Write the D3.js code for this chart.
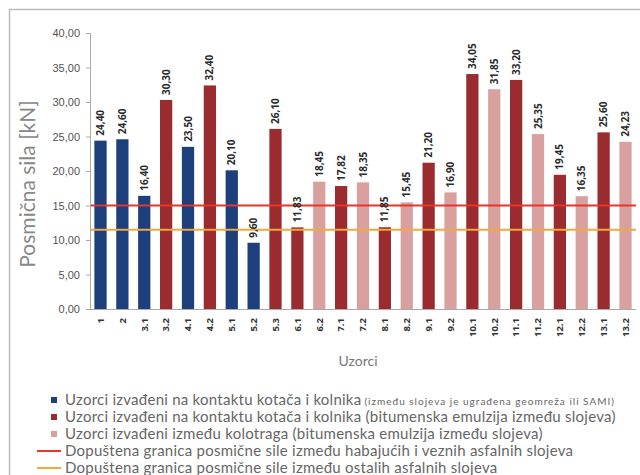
<!DOCTYPE html>
<html>
<head>
<meta charset="utf-8">
<script src="https://cdn.jsdelivr.net/npm/d3@7"></script>
<style>
  body { margin: 0; background: #fff; }
  svg { font-family: Lato, "Open Sans", sans-serif; }
</style>
</head>
<body>
<svg id="chart" width="640" height="475"></svg>
<script>
const categories = ["1","2","3.1","3.2","4.1","4.2","5.1","5.2","5.3","6.1","6.2","7.1","7.2","8.1","8.2","9.1","9.2","10.1","10.2","11.1","11.2","12.1","12.2","13.1","13.2"];
const values = [24.40,24.60,16.40,30.30,23.50,32.40,20.10,9.60,26.10,11.83,18.45,17.82,18.35,11.85,15.45,21.20,16.90,34.05,31.85,33.20,25.35,19.45,16.35,25.60,24.23];
// group: 0 = geomreza/SAMI, 1 = kotac, emulzija, 2 = izmedu kolotraga
const groups = [0,0,0,1,0,1,0,0,1,1,2,1,2,1,2,1,2,1,2,1,2,1,2,1,2];
const yTicks = [0,5,10,15,20,25,30,35,40];
const limitHigh = 15;
const limitLow = 11.5;
const legendLabels = [
  "Uzorci izvađeni na kontaktu kotača i kolnika",
  "Uzorci izvađeni na kontaktu kotača i kolnika (bitumenska emulzija između slojeva)",
  "Uzorci izvađeni između kolotraga (bitumenska emulzija između slojeva)",
  "Dopuštena granica posmične sile između habajućih i veznih asfalnih slojeva",
  "Dopuštena granica posmične sile između ostalih asfalnih slojeva"
];
const legendNote = "(između slojeva je ugrađena geomreža ili SAMI)";

const barColors = ["#1d3f7c", "#9a2b2f", "#d9a0a0"];
const lineColors = ["#e8352a", "#f2a93b"];

const svg = d3.select("#chart");
const fmt = v => d3.format(".2f")(v).replace(".", ",");

// outer frame
svg.append("path")
  .attr("d", "M9.5,475 L9.5,9.5 L640,9.5")
  .attr("fill", "none")
  .attr("stroke", "#bbb")
  .attr("stroke-width", 1.5);

const plotLeft = 90, plotRight = 636, plotTop = 33, plotBottom = 309;

const x = d3.scaleBand().domain(categories).range([plotLeft, plotRight]).paddingInner(0.44).paddingOuter(0.2);
const y = d3.scaleLinear().domain([0, 40]).range([plotBottom, plotTop]);

// bars
svg.append("g").selectAll("rect")
  .data(values)
  .join("rect")
  .attr("x", (d, i) => x(categories[i]))
  .attr("y", d => y(d))
  .attr("width", x.bandwidth())
  .attr("height", d => y(0) - y(d))
  .attr("fill", (d, i) => barColors[groups[i]]);

// limit lines
[limitHigh, limitLow].forEach((v, i) => {
  svg.append("line")
    .attr("x1", plotLeft).attr("x2", plotRight)
    .attr("y1", y(v)).attr("y2", y(v))
    .attr("stroke", lineColors[i])
    .attr("stroke-width", 2);
});

// value labels
svg.append("g").selectAll("text")
  .data(values)
  .join("text")
  .attr("transform", (d, i) => `translate(${x(categories[i]) + x.bandwidth() / 2 + 3.5},${y(d) - 5}) rotate(-90)`)
  .attr("font-family", "'Open Sans', sans-serif")
  .attr("font-size", 10)
  .attr("font-weight", "bold")
  .attr("fill", "#2a2a2a")
  .text(d => fmt(d));

// y axis
const yAxis = svg.append("g")
  .attr("transform", `translate(${plotLeft},0)`)
  .call(d3.axisLeft(y).tickValues(yTicks).tickFormat(fmt).tickSize(4).tickPadding(6));
yAxis.select(".domain").attr("stroke", "#aaa");
yAxis.selectAll(".tick line").attr("stroke", "#aaa");
yAxis.selectAll("text").attr("font-size", 11).attr("fill", "#555");

// x axis
const xAxis = svg.append("g")
  .attr("transform", `translate(0,${plotBottom})`)
  .call(d3.axisBottom(x).tickSize(0).tickPadding(0));
xAxis.select(".domain").attr("stroke", "#aaa").attr("d", `M${plotLeft},0.5H${plotRight}`);
xAxis.selectAll("text")
  .attr("font-family", "'Open Sans', sans-serif")
  .attr("font-size", 9.5)
  .attr("font-weight", "bold")
  .attr("fill", "#333")
  .attr("text-anchor", "end")
  .attr("transform", "rotate(-90)")
  .attr("x", -9)
  .attr("y", 0)
  .attr("dy", "0.35em");

// axis titles
svg.append("text")
  .attr("transform", `translate(35,184) rotate(-90)`)
  .attr("text-anchor", "middle")
  .attr("font-size", 21)
  .attr("fill", "#888")
  .text("Posmična sila [kN]");

svg.append("text")
  .attr("x", 358).attr("y", 366)
  .attr("text-anchor", "middle")
  .attr("font-size", 14)
  .attr("fill", "#777")
  .text("Uzorci");

// legend
const legendY = [400, 417, 434, 451, 468];
const legend = svg.append("g");
legendLabels.forEach((label, i) => {
  const yy = legendY[i];
  if (i < 3) {
    legend.append("rect")
      .attr("x", 51).attr("y", yy - 3)
      .attr("width", 6).attr("height", 6)
      .attr("fill", barColors[i]);
  } else {
    legend.append("line")
      .attr("x1", 37).attr("x2", 61)
      .attr("y1", yy).attr("y2", yy)
      .attr("stroke", lineColors[i - 3])
      .attr("stroke-width", 2);
  }
  const t = legend.append("text")
    .attr("x", 65)
    .attr("y", yy + 5)
    .attr("font-size", 15)
    .attr("letter-spacing", 0.25)
    .attr("fill", "#666")
    .text(label);
  if (i === 0) {
    t.append("tspan").attr("font-size", 10).attr("letter-spacing", 1).attr("dx", 3).text(legendNote);
  }
});
</script>
</body>
</html>
